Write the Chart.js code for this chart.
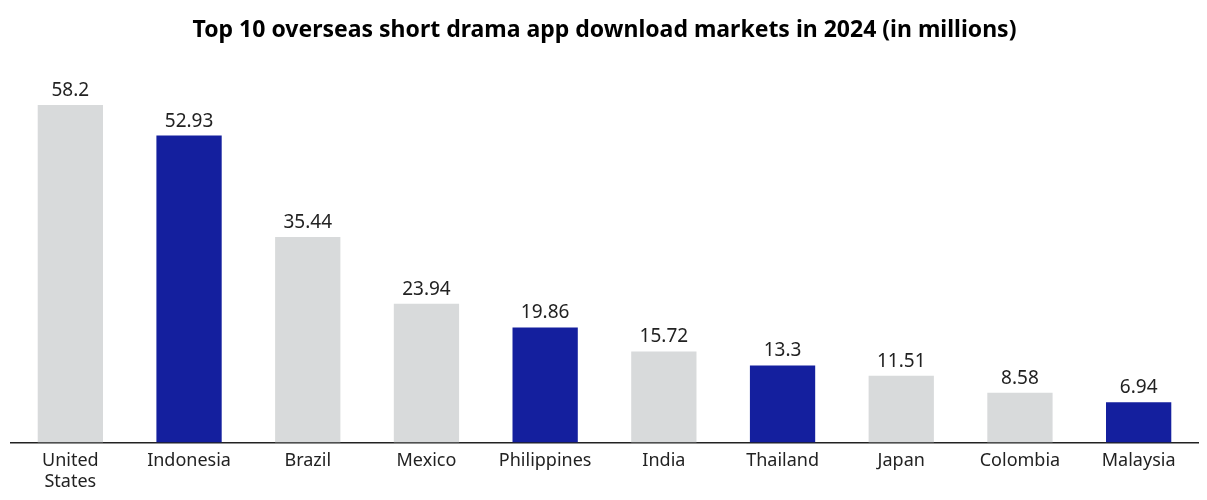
<!DOCTYPE html>
<html>
<head>
<meta charset="utf-8">
<title>Short drama app downloads 2024</title>
<script src="https://cdn.jsdelivr.net/npm/chart.js@4"></script>
<style>
  html, body { margin: 0; padding: 0; background: #fff; }
  #wrap { width: 1207px; height: 500px; }
</style>
</head>
<body>
<div id="wrap"><canvas id="chart"></canvas></div>
<script>
// Data
const markets = [['United', 'States'], 'Indonesia', 'Brazil', 'Mexico', 'Philippines', 'India', 'Thailand', 'Japan', 'Colombia', 'Malaysia'];
const downloads = [58.2, 52.93, 35.44, 23.94, 19.86, 15.72, 13.3, 11.51, 8.58, 6.94];
const highlighted = [false, true, false, false, true, false, true, false, false, true];

const GREY = '#d8dadb';
const BLUE = '#141f9e';
const TEXT = '#222222';

// draws the value above each bar
const valueLabels = {
  id: 'valueLabels',
  afterDatasetsDraw(chart) {
    const ctx = chart.ctx;
    const meta = chart.getDatasetMeta(0);
    ctx.save();
    ctx.font = '19px "Noto Sans", sans-serif';
    ctx.fillStyle = TEXT;
    ctx.textAlign = 'center';
    ctx.textBaseline = 'bottom';
    meta.data.forEach((bar, i) => {
      ctx.fillText(String(downloads[i]), bar.x, bar.y - 5);
    });
    ctx.restore();
  }
};

new Chart(document.getElementById('chart'), {
  type: 'bar',
  data: {
    labels: markets,
    datasets: [{
      data: downloads,
      backgroundColor: highlighted.map(h => h ? BLUE : GREY),
      barPercentage: 0.55,
      categoryPercentage: 1
    }]
  },
  options: {
    responsive: true,
    maintainAspectRatio: false,
    animation: false,
    layout: { padding: { left: 11, right: 9, bottom: 0 } },
    plugins: {
      legend: { display: false },
      tooltip: { enabled: false },
      title: {
        display: true,
        text: 'Top 10 overseas short drama app download markets in 2024 (in millions)',
        color: '#000',
        font: { family: '"Noto Sans", sans-serif', size: 23, weight: 'bold' },
        padding: { top: 17, bottom: 21 }
      }
    },
    scales: {
      x: {
        grid: { display: false, drawTicks: false },
        border: { display: true, color: '#222', width: 1.5 },
        ticks: {
          color: TEXT,
          padding: 8,
          maxRotation: 0,
          font: { family: '"Noto Sans", sans-serif', size: 18, lineHeight: 1.15 }
        }
      },
      y: {
        display: false,
        min: 0,
        max: 65
      }
    }
  },
  plugins: [valueLabels]
});
</script>
</body>
</html>
